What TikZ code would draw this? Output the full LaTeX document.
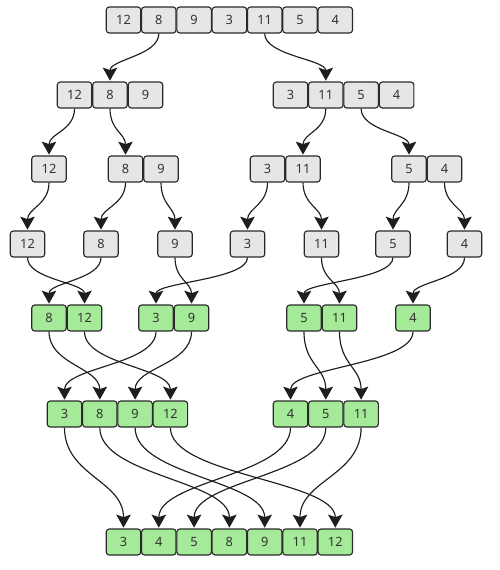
\documentclass[tikz,border=0pt]{standalone}
\usepackage{fontspec}
\setmainfont{Noto Sans}
\usetikzlibrary{arrows.meta}
\definecolor{boxgray}{HTML}{E6E6E6}
\definecolor{boxgreen}{HTML}{A5EA98}
\definecolor{bordc}{HTML}{2A2A2A}
\definecolor{txtc}{HTML}{333333}
\definecolor{edgec}{HTML}{1E1E1E}
\tikzset{
  cell/.style={draw=bordc, line width=1.15pt, rounded corners=3pt, minimum width=34.5pt, minimum height=26pt, inner sep=0pt, text=txtc, font=\fontsize{12.8}{14}\selectfont},
  gcell/.style={cell, fill=boxgray},
  ncell/.style={cell, fill=boxgreen},
  edge/.style={draw=edgec, line width=1.15pt, -{Stealth[length=13pt, width=14.5pt, inset=2.5pt]}, shorten >=0.8pt}
}
\newcommand{\lnk}[3]{\draw[edge] (#1.south) .. controls +(0,#3) and +(0,-#3) .. (#2.north);}
\begin{document}
\begin{tikzpicture}[x=1pt,y=-1pt]
\useasboundingbox (0,0) rectangle (500,570);
% row 1
\node[gcell] (a1) at (123.5,20) {12};
\node[gcell] (a2) at (158.8,20) {8};
\node[gcell] (a3) at (194.1,20) {9};
\node[gcell] (a4) at (229.4,20) {3};
\node[gcell] (a5) at (264.7,20) {11};
\node[gcell] (a6) at (300,20) {5};
\node[gcell] (a7) at (335.3,20) {4};
% row 2
\node[gcell] (b1) at (74.5,95) {12};
\node[gcell] (b2) at (110,95) {8};
\node[gcell] (b3) at (145.5,95) {9};
\node[gcell] (b4) at (290.5,95) {3};
\node[gcell] (b5) at (325.8,95) {11};
\node[gcell] (b6) at (361.1,95) {5};
\node[gcell] (b7) at (396.6,95) {4};
% row 3
\node[gcell] (c1) at (49,169) {12};
\node[gcell] (c2) at (125.5,169) {8};
\node[gcell] (c3) at (161,169) {9};
\node[gcell] (c4) at (267.5,169) {3};
\node[gcell] (c5) at (303,169) {11};
\node[gcell] (c6) at (409,169) {5};
\node[gcell] (c7) at (444.5,169) {4};
% row 4
\node[gcell] (d1) at (27.5,244) {12};
\node[gcell] (d2) at (101,244) {8};
\node[gcell] (d3) at (175,244) {9};
\node[gcell] (d4) at (247.5,244) {3};
\node[gcell] (d5) at (321.5,244) {11};
\node[gcell] (d6) at (393,244) {5};
\node[gcell] (d7) at (464.5,244) {4};
% row 5
\node[ncell] (e1) at (49,318) {8};
\node[ncell] (e2) at (84.5,318) {12};
\node[ncell] (e3) at (156,318) {3};
\node[ncell] (e4) at (191.5,318) {9};
\node[ncell] (e5) at (304,318) {5};
\node[ncell] (e6) at (339.5,318) {11};
\node[ncell] (e7) at (413,318) {4};
% row 6
\node[ncell] (f1) at (64.5,414) {3};
\node[ncell] (f2) at (99.8,414) {8};
\node[ncell] (f3) at (135.1,414) {9};
\node[ncell] (f4) at (170.4,414) {12};
\node[ncell] (f5) at (290.5,414) {4};
\node[ncell] (f6) at (325.8,414) {5};
\node[ncell] (f7) at (361.1,414) {11};
% row 7
\node[ncell] (g1) at (123.5,542) {3};
\node[ncell] (g2) at (158.8,542) {4};
\node[ncell] (g3) at (194.1,542) {5};
\node[ncell] (g4) at (229.4,542) {8};
\node[ncell] (g5) at (264.7,542) {9};
\node[ncell] (g6) at (300,542) {11};
\node[ncell] (g7) at (335.3,542) {12};
% edges
\lnk{a2}{b2}{22}
\lnk{a5}{b5}{22}
\lnk{b1}{c1}{22}
\lnk{b2}{c2}{22}
\lnk{b5}{c5}{22}
\lnk{b6}{c6}{22}
\lnk{c1}{d1}{22}
\lnk{c2}{d2}{22}
\lnk{c3}{d3}{22}
\lnk{c4}{d4}{22}
\lnk{c5}{d5}{22}
\lnk{c6}{d6}{22}
\lnk{c7}{d7}{22}
\lnk{d1}{e2}{22}
\lnk{d2}{e1}{22}
\lnk{d3}{e4}{22}
\lnk{d4}{e3}{22}
\lnk{d5}{e6}{22}
\lnk{d6}{e5}{22}
\lnk{d7}{e7}{22}
\lnk{e1}{f2}{33}
\lnk{e2}{f4}{33}
\lnk{e3}{f1}{33}
\lnk{e4}{f3}{33}
\lnk{e5}{f6}{33}
\lnk{e6}{f7}{33}
\lnk{e7}{f5}{33}
\lnk{f1}{g1}{48}
\lnk{f2}{g4}{48}
\lnk{f3}{g5}{48}
\lnk{f4}{g7}{48}
\lnk{f5}{g2}{48}
\lnk{f6}{g3}{48}
\lnk{f7}{g6}{48}
\end{tikzpicture}
\end{document}
